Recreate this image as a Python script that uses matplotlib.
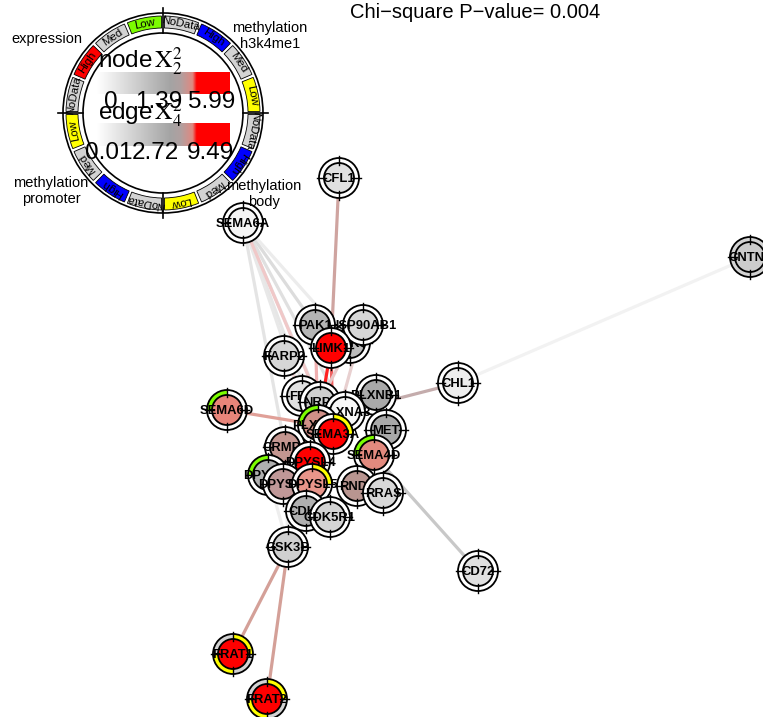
import numpy as np
import matplotlib
matplotlib.use("Agg")
import matplotlib.pyplot as plt
from matplotlib.patches import Circle, Wedge
from matplotlib.colors import LinearSegmentedColormap

plt.rcParams['font.family'] = ['Liberation Sans', 'DejaVu Sans']
plt.rcParams['mathtext.fontset'] = 'stix'

# ---------------- data ----------------
title = "Chi\u2212square P\u2212value= 0.004"

node_names = ["CFL1", "SEMA6A", "CNTN1", "PAK3", "HSP90AB1", "PAK1", "LIMK1", "FARP2",
              "CHL1", "PLXNB1", "FES", "NRP1", "PLXNA3", "SEMA6D", "MET", "PLXNA1",
              "SEMA3A", "SEMA4D", "CRMP1", "DPYSL4", "DPYSL2", "DPYSL3", "DPYSL5",
              "RND1", "RRAS", "CDK5", "CDK5R1", "GSK3B", "CD72", "FRAT1", "FRAT2"]
# layout coordinates (pixels of the 763x717 canvas)
node_x = [339, 243, 750, 350, 363, 315, 331, 284, 458, 376, 302, 320, 345, 227, 386, 318,
          333, 374, 285, 310, 268, 283, 312, 357, 383, 306, 330, 288, 478, 233, 267]
node_y = [178, 223, 257, 343, 325, 325, 348, 356, 383, 395, 396, 402, 412, 410, 430, 425,
          434, 455, 447, 462, 475, 484, 484, 486, 493, 511, 517, 547, 571, 654, 699]
node_fill = ["#e0e0e0", "#f5f5f5", "#cccccc", "#bdbdbd", "#d6d6d6", "#b4b4b4", "#ff0000",
             "#d6d6d6", "#eeeeee", "#a9a9a9", "#e0e0e0", "#cfcfcf", "#f8f8f8", "#e8857a",
             "#a9a9a9", "#d09088", "#ff0000", "#e28a7e", "#c49690", "#ff0000", "#b0b0b0",
             "#c09898", "#e8958a", "#b89590", "#d8d8d8", "#b0b0b0", "#d4d4d4", "#d0d0d0",
             "#e0e0e0", "#ff0000", "#ff0000"]
# ring status per node: expression, h3k4me1, body, promoter
W_ = "white"; G_ = "#d3d3d3"; Y_ = "#ffff00"; L_ = "#7cfc00"
node_ring = [[W_, W_, W_, W_] for _ in node_names]
node_ring[node_names.index("CNTN1")] = [G_, G_, G_, G_]
node_ring[node_names.index("SEMA6D")] = [L_, W_, W_, W_]
node_ring[node_names.index("SEMA4D")] = [L_, W_, W_, W_]
node_ring[node_names.index("PLXNA1")] = [L_, W_, W_, W_]
node_ring[node_names.index("DPYSL2")] = [L_, W_, W_, W_]
node_ring[node_names.index("SEMA3A")] = [W_, Y_, W_, W_]
node_ring[node_names.index("DPYSL5")] = [W_, Y_, W_, W_]
node_ring[node_names.index("FRAT1")] = [G_, Y_, G_, Y_]
node_ring[node_names.index("FRAT2")] = [G_, Y_, G_, Y_]

edges = [("CFL1", "LIMK1"), ("SEMA6A", "PAK1"), ("SEMA6A", "NRP1"), ("SEMA6A", "PLXNA1"),
         ("SEMA6A", "PLXNA3"), ("SEMA6A", "FES"), ("SEMA6A", "SEMA3A"), ("SEMA6A", "CRMP1"),
         ("SEMA6A", "PAK3"), ("CNTN1", "CHL1"), ("CHL1", "PLXNA3"), ("CD72", "SEMA4D"),
         ("GSK3B", "FRAT1"), ("GSK3B", "FRAT2"), ("SEMA6D", "PLXNA1"),
         ("LIMK1", "PLXNA1"), ("LIMK1", "SEMA3A"), ("PAK1", "PLXNA1"), ("HSP90AB1", "SEMA3A"),
         ("GSK3B", "CRMP1"), ("GSK3B", "DPYSL2"), ("GSK3B", "CDK5"), ("RRAS", "PLXNB1"),
         ("PAK3", "NRP1"), ("FARP2", "PLXNA1")]
edge_color = ["#cfa4a0", "#dcdcdc", "#e2e2e2", "#e6e6e6", "#e0e0e0", "#e8e8e8", "#f0c8c8",
              "#e4e4e4", "#ececec", "#f2f2f2", "#c4acac", "#c8c8c8", "#d4a098", "#d4a098",
              "#e0a098", "#ff2020", "#f06060", "#f0b0b0", "#e8d0d0", "#eeeeee", "#eeeeee",
              "#e6e6e6", "#d8d8d8", "#e8c8c8", "#f0d8d8"]

legend_quadrants = ["expression", "methylation\nh3k4me1", "methylation\nbody", "methylation\npromoter"]
legend_levels = ["NoData", "High", "Med", "Low"]
legend_level_colors = [["#d3d3d3", "#ff0000", "#d3d3d3", "#7cfc00"],
                       ["#d3d3d3", "#0000ff", "#d3d3d3", "#ffff00"],
                       ["#d3d3d3", "#0000ff", "#d3d3d3", "#ffff00"],
                       ["#d3d3d3", "#0000ff", "#d3d3d3", "#ffff00"]]
node_scale_labels = ["0", "1.39", "5.99"]
edge_scale_labels = ["0.01", "2.72", "9.49"]

# ---------------- figure ----------------
Wpx, Hpx = 763, 717
fig = plt.figure(figsize=(Wpx / 100, Hpx / 100), dpi=100)
ax = fig.add_axes([0, 0, 1, 1])
ax.set_xlim(0, Wpx)
ax.set_ylim(Hpx, 0)
ax.axis("off")

def wedge(cx, cy, r, phi1, phi2, width, **kw):
    # phi in screen degrees (ccw); y axis is inverted
    return Wedge((cx, cy), r, -phi2, -phi1, width=width, **kw)

# edges
idx = {n: i for i, n in enumerate(node_names)}
for (a, b), c in zip(edges, edge_color):
    i, j = idx[a], idx[b]
    ax.plot([node_x[i], node_x[j]], [node_y[i], node_y[j]], color=c, lw=2.3,
            solid_capstyle="butt", zorder=1)

# nodes
R_OUT, R_IN = 20, 15
quad_ranges = [(90, 180), (0, 90), (-90, 0), (180, 270)]
for k, name in enumerate(node_names):
    cx, cy = node_x[k], node_y[k]
    z = 2 + k * 0.01
    ax.add_patch(Circle((cx, cy), R_OUT, facecolor="white", edgecolor="none", zorder=z))
    for q, (p1, p2) in enumerate(quad_ranges):
        col = node_ring[k][q]
        if col != "white":
            ax.add_patch(wedge(cx, cy, R_OUT, p1, p2, R_OUT - R_IN, facecolor=col,
                               edgecolor="none", zorder=z))
    ax.add_patch(Circle((cx, cy), R_OUT, facecolor="none", edgecolor="black", lw=1.3, zorder=z))
    ax.add_patch(Circle((cx, cy), R_IN, facecolor=node_fill[k], edgecolor="black", lw=1.3, zorder=z))
    for ang in (0, 90, 180, 270):
        t = np.deg2rad(ang)
        ax.plot([cx + (R_IN - 2) * np.cos(t), cx + (R_OUT + 2) * np.cos(t)],
                [cy - (R_IN - 2) * np.sin(t), cy - (R_OUT + 2) * np.sin(t)],
                color="black", lw=1.0, zorder=z)
    ax.text(cx, cy + 1, name, ha="center", va="center", fontsize=9.4, fontweight="bold",
            zorder=z + 0.005, clip_on=True)

# ---------------- legend ----------------
LX, LY = 163, 113
ax.add_patch(Circle((LX, LY), 100, facecolor="white", edgecolor="black", lw=1.2, zorder=10))
ax.add_patch(Circle((LX, LY), 80, facecolor="white", edgecolor="black", lw=1.2, zorder=10))
for ang in (0, 90, 180, 270):
    t = np.deg2rad(ang)
    ax.plot([LX + 80 * np.cos(t), LX + 105 * np.cos(t)],
            [LY - 80 * np.sin(t), LY - 105 * np.sin(t)], color="black", lw=1.2, zorder=11)
quad_start = [180, 90, 0, -90]
for q in range(4):
    for s in range(4):
        c_ang = quad_start[q] - 11.25 - 22.5 * s
        ax.add_patch(wedge(LX, LY, 97, c_ang - 10.3, c_ang + 10.3, 12,
                           facecolor=legend_level_colors[q][s], edgecolor="black", lw=0.6, zorder=11))
        t = np.deg2rad(c_ang)
        ax.text(LX + 91 * np.cos(t), LY - 91 * np.sin(t), legend_levels[s],
                rotation=c_ang - 90, rotation_mode="anchor", ha="center", va="center",
                fontsize=8.2, zorder=12)

ax.text(47, 39, legend_quadrants[0], ha="center", va="center", fontsize=10.5, zorder=13)
ax.text(270, 36, legend_quadrants[1], ha="center", va="center", fontsize=10.5,
        linespacing=1.15, zorder=13)
ax.text(264, 194, legend_quadrants[2], ha="center", va="center", fontsize=10.5,
        linespacing=1.15, zorder=13)
ax.text(51, 191, legend_quadrants[3], ha="center", va="center", fontsize=10.5,
        linespacing=1.15, zorder=13)

cmap = LinearSegmentedColormap.from_list(
    "chisq", [(0, "#ffffff"), (0.55, "#a4a4a4"), (0.63, "#b0a0a0"), (0.72, "#e08880"),
              (0.75, "#ff0000"), (1, "#ff0000")])
grad = np.linspace(0, 1, 256)[None, :]
for (y0, y1) in [(72, 94), (123, 146)]:
    ax.imshow(grad, cmap=cmap, extent=(97, 230, y1, y0), aspect="auto",
              interpolation="bilinear", zorder=12)
ax.set_xlim(0, Wpx)
ax.set_ylim(Hpx, 0)

ax.text(140, 62, r"node$\,\mathrm{X}_2^2$", ha="center", va="center", fontsize=17.5, zorder=14)
ax.text(140, 114, r"edge$\,\mathrm{X}_4^2$", ha="center", va="center", fontsize=17.5, zorder=14)
for x, lab in zip([111, 159, 212], node_scale_labels):
    ax.text(x, 102, lab, ha="center", va="center", fontsize=17.5, zorder=14)
for x, lab in zip([109, 155, 211], edge_scale_labels):
    ax.text(x, 153, lab, ha="center", va="center", fontsize=17.5, zorder=14)

ax.text(475, 13, title, ha="center", va="center", fontsize=14.5, zorder=14)

fig.savefig("out.png", dpi=100)
